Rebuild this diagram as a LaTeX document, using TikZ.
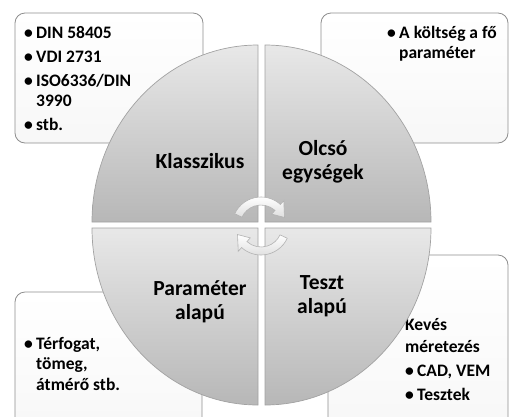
\documentclass[tikz,border=0pt]{standalone}
\usepackage{fontspec}
\setmainfont{Carlito}
\definecolor{quadlight}{HTML}{E8E8E8}
\definecolor{quaddark}{HTML}{B7B7B7}
\definecolor{quadedge}{HTML}{A2A2A2}
\definecolor{boxedge}{HTML}{8E8E8E}
\newcommand{\bitem}[1]{\makebox[12pt][l]{\textbullet}#1}
\begin{document}
\begin{tikzpicture}[x=1pt, y=-1pt,
  infobox/.style = {draw=boxedge, line width=0.8pt, rounded corners=10pt,
    top color=white, bottom color=gray!6},
  quad/.style = {draw=quadedge, line width=0.7pt, top color=quadlight, bottom color=quaddark},
  cyc/.style = {draw=gray!60, line width=0.6pt, top color=white, bottom color=gray!25},
  boxtext/.style = {inner sep=0pt, anchor=base west, font=\bfseries\fontsize{17.5}{20.5}\selectfont},
  quadtext/.style = {align=center, font=\bfseries\fontsize{21.5}{23.5}\selectfont}]
  \useasboundingbox (0,0) rectangle (509,416);
  \clip (0,0) rectangle (509,416);

  % boxes behind the circle
  \node[infobox, minimum width=188pt, minimum height=130pt] (klasszBox) at (109,78) {};
  \node[infobox, minimum width=187pt, minimum height=130pt] (olcsoBox) at (414.5,78) {};
  \node[infobox, minimum width=187pt, minimum height=140pt] (paramBox) at (108.5,362) {};
  \node[infobox, minimum width=180pt, minimum height=175pt] (tesztBox) at (418,342.5) {};

  \node[boxtext] (klasszList) at (24,38) {\begin{tabular}[t]{@{}l@{}}
    \bitem{DIN 58405}\\[3.5pt] \bitem{VDI 2731}\\[3.5pt]
    \bitem{ISO6336/DIN}\\ \hspace*{12pt}3990\\[3.5pt] \bitem{stb.}
  \end{tabular}};
  \node[boxtext] (olcsoList) at (387,38) {\begin{tabular}[t]{@{}l@{}}
    \bitem{A költség a fő}\\ \hspace*{12pt}paraméter
  \end{tabular}};
  \node[boxtext] (paramList) at (24,349) {\begin{tabular}[t]{@{}l@{}}
    \bitem{Térfogat,}\\ \hspace*{12pt}tömeg,\\ \hspace*{12pt}átmérő stb.
  \end{tabular}};
  \node[boxtext] (tesztList) at (405,330) {\begin{tabular}[t]{@{}l@{}}
    Kevés\\[1.5pt] méretezés\\[4pt] \bitem{CAD, VEM}\\[3.5pt] \bitem{Tesztek}
  \end{tabular}};

  % quarters
  \draw[quad] (258,222) -- ++(-166,0) arc[start angle=180, end angle=270, x radius=166, y radius=177] -- cycle;
  \draw[quad] (265,222) -- ++(0,-177) arc[start angle=270, end angle=360, x radius=166, y radius=177] -- cycle;
  \draw[quad] (265,228) -- ++(166,0) arc[start angle=0, end angle=90, x radius=166, y radius=177] -- cycle;
  \draw[quad] (258,228) -- ++(0,177) arc[start angle=90, end angle=180, x radius=166, y radius=177] -- cycle;

  % the two turning arrows
  \begin{scope}[shift={(261,226)}, yscale=-1]
    \draw[cyc] (155:29) arc[start angle=155, end angle=48, radius=29] -- (48:34)
      -- (20:25) -- (48:16) -- (48:21) arc[start angle=48, end angle=155, radius=21] -- cycle;
    \draw[cyc] (-25:29) arc[start angle=-25, end angle=-132, radius=29] -- (-132:34)
      -- (-160:25) -- (-132:16) -- (-132:21) arc[start angle=-132, end angle=-25, radius=21] -- cycle;
  \end{scope}

  \node[quadtext] (klassz) at (200,161) {Klasszikus};
  \node[quadtext] (olcso) at (323,162) {Olcsó\\egységek};
  \node[quadtext] (param) at (200,302) {Paraméter\\alapú};
  \node[quadtext] (teszt) at (322,296) {Teszt\\alapú};
\end{tikzpicture}
\end{document}
